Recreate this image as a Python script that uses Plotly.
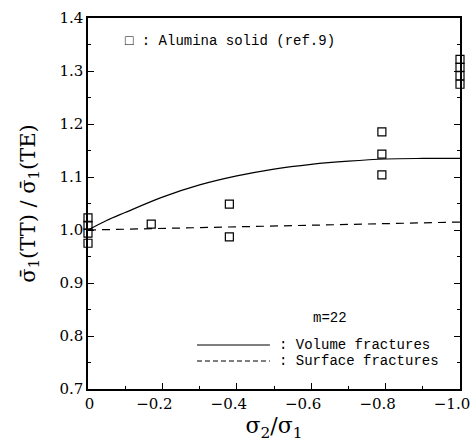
import plotly.graph_objects as go

# Experimental data (Alumina solid, ref.9)
exp_x = [0, 0, 0, 0, -0.17, -0.38, -0.38, -0.79, -0.79, -0.79, -1.0, -1.0, -1.0, -1.0]
exp_y = [1.023, 1.009, 0.994, 0.975, 1.011, 1.049, 0.987, 1.185, 1.143, 1.104, 1.322, 1.307, 1.291, 1.275]

# Volume fractures (solid curve)
vol_x = [0, -0.05, -0.1, -0.2, -0.3, -0.4, -0.5, -0.6, -0.7, -0.8, -0.9, -1.0]
vol_y = [1.0, 1.018, 1.033, 1.062, 1.085, 1.102, 1.115, 1.124, 1.130, 1.134, 1.135, 1.135]

# Surface fractures (dashed curve)
surf_x = [0, -0.2, -0.4, -0.6, -0.8, -1.0]
surf_y = [1.0, 1.003, 1.006, 1.009, 1.012, 1.015]

x_ticks = [0, -0.2, -0.4, -0.6, -0.8, -1.0]
x_ticklabels = ["\u2007\u20070", "−0.2", "−0.4", "−0.6", "−0.8", "−1.0"]
y_ticks = [0.7, 0.8, 0.9, 1.0, 1.1, 1.2, 1.3, 1.4]
y_ticklabels = ["0.7", "0.8", "0.9", "1.0", "1.1", "1.2", "1.3", "1.4"]

TICKFONT = dict(family="DejaVu Serif", size=15, color="black")
MONO = dict(family="Liberation Mono", size=14, color="black")

fig = go.Figure()
fig.add_trace(go.Scatter(x=vol_x, y=vol_y, mode="lines", line=dict(color="black", width=1.2, shape="spline"),
                         showlegend=False, hoverinfo="skip"))
fig.add_trace(go.Scatter(x=surf_x, y=surf_y, mode="lines", line=dict(color="black", width=1.2, dash="8px,6px"),
                         showlegend=False, hoverinfo="skip"))
fig.add_trace(go.Scatter(x=exp_x, y=exp_y, mode="markers",
                         marker=dict(symbol="square-open", size=8, color="black", line=dict(width=1.2, color="black")),
                         showlegend=False, cliponaxis=False))

fig.update_xaxes(range=[0, -1.0], tickvals=x_ticks, ticktext=x_ticklabels, ticks="inside", ticklen=6,
                 tickcolor="black", showline=True, linecolor="black", linewidth=1.5, mirror=True,
                 showgrid=False, zeroline=False, tickfont=TICKFONT, ticklabeloverflow="allow",
                 ticklabelshift=8, automargin=False,
                 minor=dict(dtick=0.1, ticks="inside", ticklen=3, tickcolor="black", showgrid=False),
                 title=dict(text="σ<sub>2</sub>/σ<sub>1</sub>", font=dict(family="DejaVu Serif", size=22, color="black"),
                            standoff=6))
fig.update_yaxes(range=[0.7, 1.4], tickvals=y_ticks, ticktext=y_ticklabels, ticks="inside", ticklen=6,
                 tickcolor="black", showline=True, linecolor="black", linewidth=1.5, mirror="ticks",
                 showgrid=False, zeroline=False, tickfont=TICKFONT, automargin=False,
                 minor=dict(dtick=0.05, ticks="inside", ticklen=3, tickcolor="black", showgrid=False),
                 title=dict(text="σ̄<sub>1</sub>(TT) / σ̄<sub>1</sub>(TE)",
                            font=dict(family="DejaVu Serif", size=21, color="black"), standoff=18))

ann = [
    dict(x=0.094, y=0.938, text="□ : Alumina solid (ref.9)", xanchor="left"),
    dict(x=0.65, y=0.191, text="m=22", xanchor="center"),
    dict(x=0.508, y=0.1186, text=": Volume fractures", xanchor="left"),
    dict(x=0.508, y=0.0755, text=": Surface fractures", xanchor="left"),
]
for a in ann:
    fig.add_annotation(xref="paper", yref="paper", x=a["x"], y=a["y"], text=a["text"], xanchor=a["xanchor"],
                       yanchor="middle", showarrow=False, font=MONO)

fig.add_shape(type="line", xref="paper", yref="paper", x0=0.293, x1=0.489, y0=0.1186, y1=0.1186,
              line=dict(color="black", width=1.2))
fig.add_shape(type="line", xref="paper", yref="paper", x0=0.293, x1=0.489, y0=0.0755, y1=0.0755,
              line=dict(color="black", width=1.2, dash="5px,3px"))

fig.update_layout(width=474, height=447, margin=dict(l=88, r=14, t=18, b=58, autoexpand=False),
                  paper_bgcolor="white", plot_bgcolor="white", showlegend=False)

fig.write_html("out.html", config={"displayModeBar": False})

# remove the browser's default body margin so the figure sits at the page origin
with open("out.html", "r", encoding="utf-8") as f:
    html = f.read()
html = html.replace("<body>", '<body style="margin:0;padding:0;overflow:hidden">', 1)
with open("out.html", "w", encoding="utf-8") as f:
    f.write(html)
